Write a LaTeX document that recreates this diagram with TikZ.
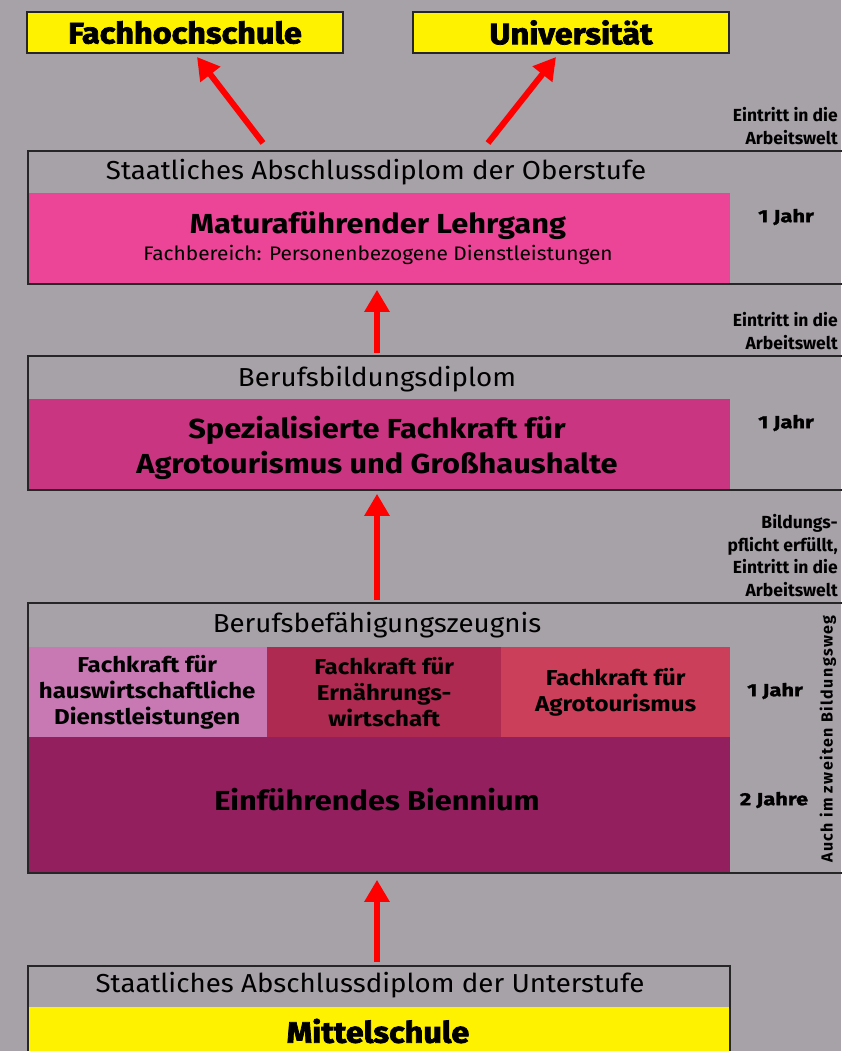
\documentclass[tikz,border=0pt]{standalone}
\usepackage{fontspec}
\setmainfont{Fira Sans}
\setsansfont{Fira Sans}
\newfontfamily\blkfam{Fira Sans}[BoldFeatures={FakeBold=2.5, FakeStretch=1.1}]
\newfontfamily\jfam{Fira Sans}[BoldFeatures={FakeBold=1.5, FakeStretch=1.25}]
\newfontfamily\hdrfam{Fira Sans}[FakeStretch=1.066]
\newfontfamily\bfam{Fira Sans}[BoldFeatures={FakeStretch=1.12}]
\newcommand{\blk}{\blkfam\bfseries}
\usetikzlibrary{arrows.meta}
\definecolor{bg}{HTML}{A7A1A8}
\definecolor{ylw}{HTML}{FFF200}
\definecolor{pinkA}{HTML}{EC4496}
\definecolor{pinkB}{HTML}{C93580}
\definecolor{lilac}{HTML}{C879B4}
\definecolor{wine}{HTML}{AE2A50}
\definecolor{rose}{HTML}{CC3F5A}
\definecolor{plum}{HTML}{931F5F}
\definecolor{arrred}{HTML}{FF0000}
\tikzset{
  frame/.style={draw=black!85, line width=1.8pt, anchor=north west, inner sep=0pt},
  band/.style={anchor=north west, inner sep=0pt, align=center},
  target/.style={draw=black!85, line width=1.4pt, fill=ylw, minimum width=316pt, minimum height=41pt, inner sep=0pt, font=\blk\fontsize{29.5}{29.5}\selectfont},
  hdr/.style={font=\hdrfam\fontsize{26}{26}\selectfont},
  title/.style={font=\bfam\bfseries\fontsize{27.5}{35}\selectfont, align=center},
  fktext/.style={font=\bfam\bfseries\fontsize{21.5}{26}\selectfont, align=center},
  side/.style={font=\bfseries\fontsize{17.5}{22.5}\selectfont, align=right, anchor=east, inner sep=0pt},
  dur/.style={font=\jfam\bfseries\fontsize{17.5}{17.5}\selectfont},
  arr/.style={draw=arrred, line width=6pt, -{Triangle[length=22pt,width=24pt]}},
}
\begin{document}
\begin{tikzpicture}[x=1pt,y=-1pt]
\fill[bg] (0,0) rectangle (841,1051);
\useasboundingbox (0,0) rectangle (841,1051);
\coordinate (ax) at (377,0);
% targets
\node[target] (fh) at (185,32.5) {Fachhochschule};
\node[target] (uni) at (571,32.5) {Universität};
% Oberstufe
\node[band, fill=pinkA, minimum width=703pt, minimum height=90pt] (mat) at (27,193) {};
\node[frame, minimum width=816pt, minimum height=133pt] (ober) at (27,150) {};
\node[hdr] (oberh) at (376,172) {Staatliches Abschlussdiplom der Oberstufe};
\node[title] (matt) at (378,226) {Maturaführender Lehrgang};
\node[font=\hdrfam\fontsize{19.6}{19.6}\selectfont] (mats) at (378,255) {Fachbereich: Personenbezogene Dienstleistungen};
\node[dur] (j1) at (786,217) {1 Jahr};
% Berufsbildungsdiplom
\node[band, fill=pinkB, minimum width=703pt, minimum height=90pt] (spz) at (27,399) {};
\node[frame, minimum width=816pt, minimum height=134pt] (bbd) at (27,355) {};
\node[hdr] (bbdh) at (377,379) {Berufsbildungsdiplom};
\node[title] (spzt) at (377,448) {Spezialisierte Fachkraft für\\Agrotourismus und Großhaushalte};
\node[dur] (j2) at (786,423) {1 Jahr};
% Berufsbefaehigungszeugnis
\node[band, fill=lilac, minimum width=240pt, minimum height=90pt] (fk1) at (27,647) {};
\node[band, fill=wine, minimum width=234pt, minimum height=90pt] (fk2) at (267,647) {};
\node[band, fill=rose, minimum width=229pt, minimum height=90pt] (fk3) at (501,647) {};
\node[band, fill=plum, minimum width=703pt, minimum height=135pt] (bien) at (27,737) {};
\node[frame, minimum width=816pt, minimum height=270pt] (bbz) at (27,602) {};
\node[hdr] (bbzh) at (377,625) {Berufsbefähigungszeugnis};
\node[fktext] (fk1t) at (fk1.center) {Fachkraft für\\hauswirtschaftliche\\Dienstleistungen};
\node[fktext] (fk2t) at (fk2.center) {Fachkraft für\\Ernährungs-\\wirtschaft};
\node[fktext] (fk3t) at (fk3.center) {Fachkraft für\\Agrotourismus};
\node[title] (bient) at (377,800) {Einführendes Biennium};
\node[dur] (j3) at (775,691) {1 Jahr};
\node[dur] (j4) at (774,800) {2 Jahre};
\node[rotate=90, font=\bfseries\fontsize{16}{16}\selectfont\addfontfeatures{LetterSpace=9}] (zbw) at (828,739) {Auch im zweiten Bildungsweg};
% Unterstufe
\node[band, fill=ylw, minimum width=702pt, minimum height=50pt] (mit) at (27,1007) {};
\node[frame, minimum width=702pt, minimum height=100pt] (unt) at (27,965) {};
\node[hdr] (unth) at (370,985) {Staatliches Abschlussdiplom der Unterstufe};
\node[font=\blk\fontsize{29.5}{29.5}\selectfont] (mitt) at (378,1031) {Mittelschule};
% side texts
\node[side] (s1) at (838,126) {Eintritt in die\\Arbeitswelt};
\node[side] (s2) at (838,331) {Eintritt in die\\Arbeitswelt};
\node[side] (s3) at (838,555.5) {Bildungs-\\pflicht erfüllt,\\Eintritt in die\\Arbeitswelt};
% arrows
\coordinate (a1s) at (263,143);
\coordinate (a1e) at (197,57);
\coordinate (a2s) at (488,143);
\coordinate (a2e) at (556,57);
\draw[arr] (a1s) -- (a1e);
\draw[arr] (a2s) -- (a2e);
\draw[arr] ([yshift=2pt]bbd.north -| ax) -- ([yshift=-5pt]ober.south -| ax);
\draw[arr] ([yshift=2pt]bbz.north -| ax) -- ([yshift=-3pt]bbd.south -| ax);
\draw[arr] ([yshift=3pt]unt.north -| ax) -- ([yshift=-6pt]bbz.south -| ax);
\end{tikzpicture}
\end{document}
